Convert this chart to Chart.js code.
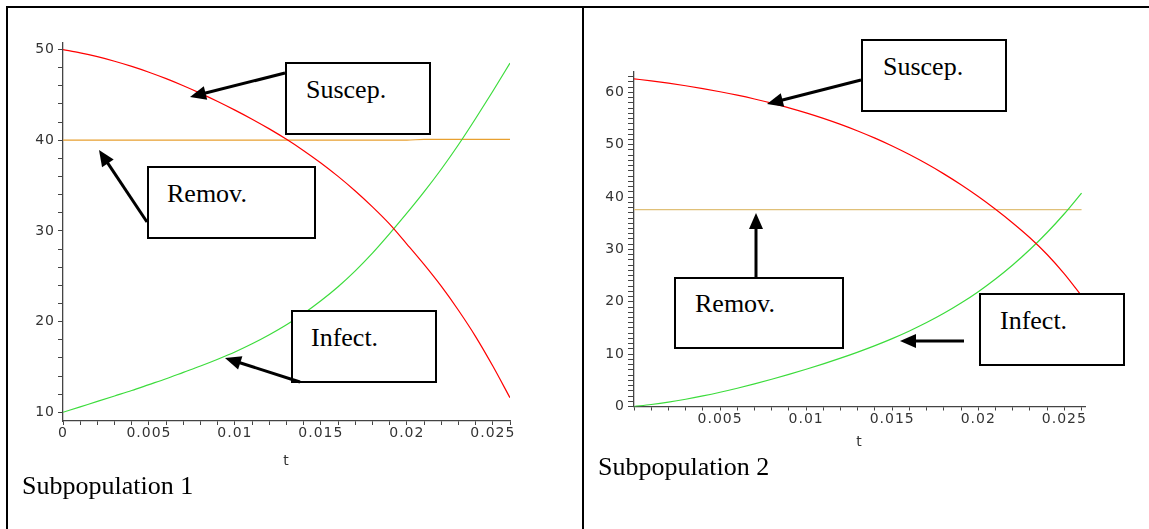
<!DOCTYPE html>
<html><head><meta charset="utf-8">
<script src="https://cdn.jsdelivr.net/npm/chart.js@4.4.1/dist/chart.umd.min.js"></script>
<style>
html,body{margin:0;padding:0;background:#fff;}
body{width:1149px;height:529px;overflow:hidden;position:relative;}
.rule{position:absolute;background:#000;}
canvas{position:absolute;}
.box{position:absolute;border:2px solid #000;background:#fff;box-sizing:border-box;}
.lbl{position:absolute;font-family:"Liberation Serif","Times New Roman",serif;font-size:26px;line-height:26px;white-space:nowrap;color:#000;}
svg{position:absolute;left:0;top:0;}
</style></head><body>
<div class="rule" style="left:6px;top:6px;width:1143px;height:2px"></div>
<div class="rule" style="left:6px;top:6px;width:2px;height:523px"></div>
<div class="rule" style="left:582px;top:6px;width:2px;height:523px"></div>

<canvas id="c1" width="574" height="510" style="left:8px;top:9px"></canvas>
<canvas id="c2" width="564" height="510" style="left:585px;top:9px"></canvas>

<div class="box" style="left:285px;top:62px;width:146px;height:73px"></div>
<div class="box" style="left:147px;top:166px;width:169px;height:73px"></div>
<div class="box" style="left:291px;top:310px;width:146px;height:73px"></div>
<div class="box" style="left:861px;top:39px;width:146px;height:73px"></div>
<div class="box" style="left:674px;top:277px;width:170px;height:72px"></div>
<div class="box" style="left:979px;top:293px;width:146px;height:73px"></div>

<div class="lbl" style="left:306px;top:77px">Suscep.</div>
<div class="lbl" style="left:167px;top:181px">Remov.</div>
<div class="lbl" style="left:311px;top:325px">Infect.</div>
<div class="lbl" style="left:883px;top:54px">Suscep.</div>
<div class="lbl" style="left:695px;top:291px">Remov.</div>
<div class="lbl" style="left:1000px;top:308px">Infect.</div>
<div class="lbl" style="left:22px;top:473px">Subpopulation 1</div>
<div class="lbl" style="left:598px;top:454px">Subpopulation 2</div>

<svg id="arrows" width="1149" height="529"></svg>

<script>
// ---- data ----
const tValues = [0,0.001,0.002,0.003,0.004,0.005,0.006,0.007,0.008,0.009,0.010,0.011,0.012,0.013,0.014,0.015,0.016,0.017,0.018,0.019,0.020,0.021,0.022,0.023,0.024,0.025,0.026];
// Subpopulation 1
const suscep1 = [50.0,49.64,49.21,48.71,48.14,47.5,46.79,46.01,45.17,44.27,43.32,42.32,41.25,40.1,38.85,37.49,36.01,34.4,32.65,30.75,28.55,26.3,23.9,21.25,18.35,15.1,11.6];
const infect1 = [10.0,10.6,11.2,11.8,12.4,13.05,13.7,14.4,15.1,15.85,16.65,17.55,18.55,19.65,20.9,22.3,23.85,25.6,27.55,29.7,31.95,34.3,36.8,39.5,42.4,45.4,48.5];
const remov1 = [40.0,40.0,40.0,40.0,40.0,40.0,40.0,40.0,40.0,40.0,40.0,40.0,40.0,40.0,40.0,40.0,40.0,40.0,40.0,40.0,40.0,40.1,40.1,40.1,40.1,40.1,40.1];
// Subpopulation 2
const suscep2 = [62.6,62.2,61.76,61.27,60.73,60.13,59.47,58.74,57.94,57.06,56.1,55.05,53.9,52.64,51.26,49.76,48.13,46.36,44.44,42.36,40.11,37.68,35.06,32.23,29.03,25.33,21.13];
const infect2 = [0.0,0.38,0.84,1.39,2.02,2.72,3.49,4.32,5.2,6.13,7.11,8.14,9.23,10.39,11.63,12.97,14.43,16.03,17.8,19.76,21.94,24.36,27.04,29.99,33.24,36.82,40.77];
const remov2 = [37.6,37.6,37.6,37.6,37.6,37.6,37.6,37.6,37.6,37.6,37.6,37.6,37.6,37.6,37.6,37.6,37.6,37.6,37.6,37.6,37.6,37.6,37.6,37.6,37.6,37.6,37.6];

// ---- tick labels ----
const xTickLabels1 = ['0','0.005','0.01','0.015','0.02','0.025'];
const xTickLabels2 = ['','0.005','0.01','0.015','0.02','0.025'];
const yTickLabels1 = ['10','20','30','40','50'];
const yTickLabels2 = ['0','10','20','30','40','50','60'];

// ---- helpers ----
const AXIS = '#444';
const TXT = '#333';
const FONT = {family:'DejaVu Sans', size:14};
function pts(ys){ return tValues.map((t,i)=>({x:t,y:ys[i]})); }
function xTicks(fromIdx, toIdx){ const a=[]; for(let i=fromIdx;i<=toIdx;i++) a.push(i/1000); return a; }
function yTicks(from, to, step){ const a=[]; for(let v=from; v<=to+1e-9; v+=step) a.push(Math.round(v*1000)/1000); return a; }
function xLabel(labels){ return v => { const k=Math.round(v*1000); return k%5===0 ? labels[k/5] : ''; }; }
function yLabel(labels, first){ return v => { const r=Math.round(v); return (Math.abs(v-r)<1e-6 && r%10===0) ? labels[(r-first)/10] : ''; }; }

const spacing = {id:'spacing', beforeDraw(chart){ chart.ctx.letterSpacing = '1px'; }};

function build(id, o){
  return new Chart(document.getElementById(id), {
    type:'line',
    data:{datasets:[
      {data:pts(o.s), borderColor:'#ff0000'},
      {data:pts(o.i), borderColor:'#3cdc3c'},
      {data:pts(o.r), borderColor:o.rColor}
    ]},
    plugins:[spacing],
    options:{
      responsive:false, animation:false, devicePixelRatio:1,
      layout:{padding:o.pad},
      plugins:{legend:{display:false}, tooltip:{enabled:false}},
      elements:{point:{radius:0}, line:{borderWidth:1.2, cubicInterpolationMode:'monotone'}},
      scales:{
        x:{type:'linear', min:0, max:o.xMax,
           afterBuildTicks:s=>{ s.ticks = o.xt.map(v=>({value:v})); },
           afterFit:s=>{ s.height = o.xH; },
           ticks:{autoSkip:false, maxRotation:0, padding:0, font:FONT, color:TXT, callback:xLabel(o.xl)},
           grid:{drawOnChartArea:false, tickLength:4, color:AXIS},
           border:{display:true, color:AXIS, width:1.3},
           title:{display:true, text:'t', font:FONT, color:TXT, padding:{top:0,bottom:4}}},
        y:{type:'linear', min:o.yMin, max:o.yMax,
           afterBuildTicks:s=>{ s.ticks = o.yt.map(v=>({value:v})); },
           afterFit:s=>{ s.width = o.yW; },
           ticks:{autoSkip:false, padding:3, font:FONT, color:TXT, callback:yLabel(o.yl, o.yFirst)},
           grid:{drawOnChartArea:false, tickLength:o.yTL, color:AXIS},
           border:{display:true, color:AXIS, width:1.3}}
      }
    }
  });
}

build('c1', {s:suscep1, i:infect1, r:remov1, rColor:'#e8a030',
  pad:{left:0, top:34, right:72, bottom:45}, xMax:0.026, xH:53, yMin:9.04, yMax:50.72, yW:55, yTL:5,
  xt:xTicks(0,26), xl:xTickLabels1, yt:yTicks(10,50,2), yl:yTickLabels1, yFirst:10});

build('c2', {s:suscep2, i:infect2, r:remov2, rColor:'#e0c078',
  pad:{left:0, top:63, right:64, bottom:64}, xMax:0.0262, xH:48.5, yMin:0, yMax:63.9, yW:49, yTL:6,
  xt:xTicks(0,26), xl:xTickLabels2, yt:yTicks(0,63,1), yl:yTickLabels2, yFirst:0});

// ---- callout arrows ----
const arrows = [
  [285,73,190,97],[147,222,99,150],[300,382,225,358],
  [861,80,767,104],[756,277,756,213],[964,341,900,341]
];
const svg = document.getElementById('arrows');
const NS = 'http://www.w3.org/2000/svg';
arrows.forEach(([x1,y1,x2,y2])=>{
  const dx=x2-x1, dy=y2-y1, L=Math.hypot(dx,dy), ux=dx/L, uy=dy/L;
  const hl=16, hw=7;
  const bx=x2-ux*hl, by=y2-uy*hl;
  const line=document.createElementNS(NS,'line');
  line.setAttribute('x1',x1); line.setAttribute('y1',y1);
  line.setAttribute('x2',bx+ux*2); line.setAttribute('y2',by+uy*2);
  line.setAttribute('stroke','#000'); line.setAttribute('stroke-width','3');
  svg.appendChild(line);
  const p=document.createElementNS(NS,'polygon');
  p.setAttribute('points', `${x2},${y2} ${bx-uy*hw},${by+ux*hw} ${bx+uy*hw},${by-ux*hw}`);
  p.setAttribute('fill','#000');
  svg.appendChild(p);
});
</script>
</body></html>
